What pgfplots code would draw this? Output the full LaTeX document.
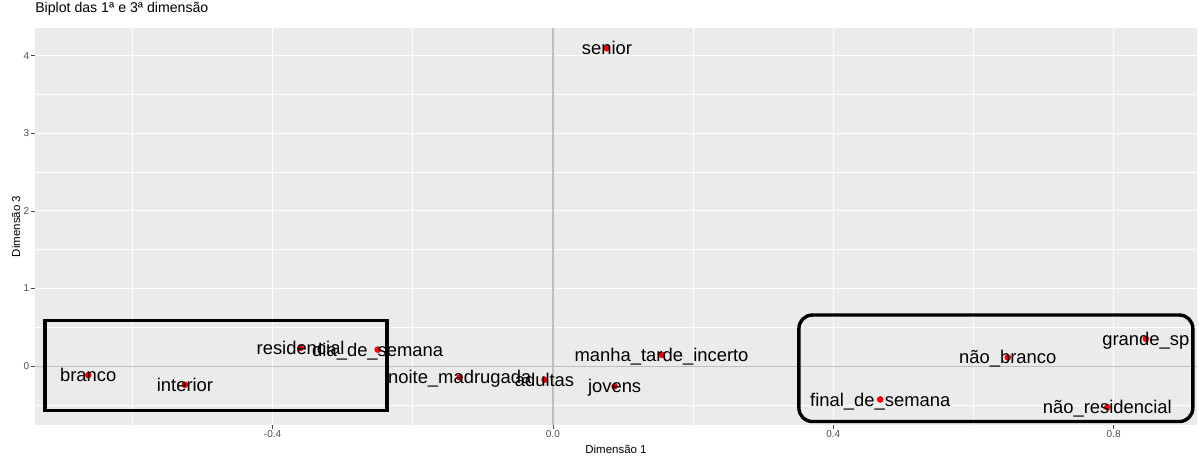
\documentclass[border=0pt]{standalone}
\usepackage{pgfplots}
\pgfplotsset{compat=1.18}
\usepackage{fontspec}
\setmainfont{Liberation Sans}

\definecolor{panelbg}{HTML}{EBEBEB}
\definecolor{tickgray}{HTML}{4D4D4D}
\definecolor{zerogray}{HTML}{BEBEBE}

\begin{document}
\begin{tikzpicture}
  \begin{axis}[name=ax,
    scale only axis,
    width=871.5pt, height=297.75pt,
    xmin=-0.739, xmax=0.919,
    ymin=-0.759, ymax=4.357,
    axis line style={draw=none},
    axis background/.style={fill=panelbg},
    xtick={-0.4,0,0.4,0.8},
    ytick={0,1,2,3,4},
    minor xtick={-0.6,-0.2,0.2,0.6},
    minor ytick={-0.5,0.5,1.5,2.5,3.5},
    grid=both,
    major grid style={white, line width=0.8pt},
    minor grid style={white, line width=0.4pt},
    tick align=outside,
    tick pos=left,
    major tick length=2.7pt,
    minor tick length=0pt,
    tick style={tickgray, line width=0.5pt},
    ticklabel style={font=\fontsize{7.5}{9}\selectfont, text=tickgray, inner sep=1.5pt},
    /pgf/number format/assume math mode=true,
    xticklabel style={/pgf/number format/.cd, fixed, fixed zerofill, precision=1},
    yticklabel style={/pgf/number format/.cd, fixed, precision=0},
    title={Biplot das 1ª e 3ª dimensão},
    title style={at={(axis description cs:0,1.0189)}, anchor=base west,
      inner sep=0pt, font=\fontsize{10.6}{12}\selectfont},
    xlabel={Dimensão 1},
    xlabel style={at={(axis description cs:0.5,-0.0718)}, anchor=base,
      inner sep=0pt, font=\fontsize{8.6}{10}\selectfont},
    ylabel={Dimensão 3},
    ylabel style={at={(axis description cs:-0.0129,0.5)}, anchor=base,
      inner sep=0pt, font=\fontsize{8.6}{10}\selectfont},
    clip=false,
  ]
  % zero reference lines
  \addplot[zerogray, line width=0.9pt] coordinates {(0,-0.759) (0,4.357)};
  \addplot[zerogray, line width=0.9pt] coordinates {(-0.739,0) (0.919,0)};

  % category coordinates
  \addplot[only marks, mark=*, mark size=2.25pt, red, mark options={draw=none},
    point meta=explicit symbolic,
    nodes near coords,
    nodes near coords style={black, anchor=base, yshift=-4.9pt, inner sep=0pt,
      font=\fontsize{13.8}{16}\selectfont},
  ] coordinates {
    (0.077,4.095)   [senior]
    (-0.360,0.235)  [residencial]
    (-0.250,0.212)  [dia\_de\_semana]
    (-0.663,-0.117) [branco]
    (-0.525,-0.240) [interior]
    (-0.133,-0.145) [noite\_madrugada]
    (-0.012,-0.175) [adultas]
    (0.155,0.146)   [manha\_tarde\_incerto]
    (0.088,-0.260)  [jovens]
    (0.467,-0.430)  [final\_de\_semana]
    (0.649,0.112)   [não\_branco]
    (0.846,0.352)   [grande\_sp]
    (0.791,-0.530)  [não\_residencial]
  };

  % highlight boxes
  \draw[black, line width=2.55pt] (axis cs:-0.725,0.585) rectangle (axis cs:-0.237,-0.575);
  \draw[black, line width=2.55pt, rounded corners=10pt]
    (axis cs:0.351,0.658) rectangle (axis cs:0.913,-0.714);
  \end{axis}
  \pgfresetboundingbox
  \path[use as bounding box] ([shift={(-26.25pt,-24pt)}]ax.south west)
    rectangle ([shift={(1.5pt,21pt)}]ax.north east);
\end{tikzpicture}
\end{document}
